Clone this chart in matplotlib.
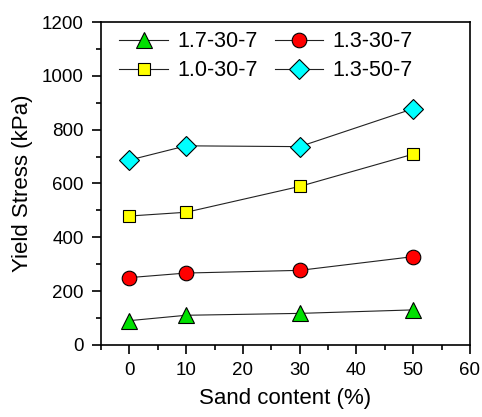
import matplotlib
matplotlib.use("Agg")
import matplotlib.pyplot as plt
from matplotlib.ticker import MultipleLocator

plt.rcParams['font.family'] = ['Liberation Sans', 'DejaVu Sans']

# sand content (%)
sand = [0, 10, 30, 50]
# yield stress (kPa) for each mix
y_17_30_7 = [90, 110, 117, 130]
y_13_30_7 = [250, 267, 277, 328]
y_10_30_7 = [479, 493, 589, 709]
y_13_50_7 = [687, 740, 737, 878]
labels = ['1.7-30-7', '1.3-30-7', '1.0-30-7', '1.3-50-7']

fig = plt.figure(figsize=(4.82, 4.17), dpi=100)
ax = fig.add_axes([0.2095, 0.173, 0.7655, 0.774])

series = [y_17_30_7, y_13_30_7, y_10_30_7, y_13_50_7]
markers = ['^', 'o', 's', 'D']
colors = ['#00e000', '#ff0000', '#ffff00', '#00ffff']
sizes = [11.5, 10.5, 8.2, 10]
lines = []
for s, m, c, ms, lab in zip(series, markers, colors, sizes, labels):
    ln, = ax.plot(sand, s, color='#222222', lw=0.8, marker=m, markersize=ms,
                  markerfacecolor=c, markeredgecolor='black', markeredgewidth=0.8,
                  label=lab)
    lines.append(ln)

ax.set_xlim(-5, 60)
ax.set_ylim(0, 1200)
ax.xaxis.set_major_locator(MultipleLocator(10))
ax.xaxis.set_minor_locator(MultipleLocator(5))
ax.yaxis.set_major_locator(MultipleLocator(200))
ax.yaxis.set_minor_locator(MultipleLocator(100))
ax.tick_params(which='both', direction='out', labelsize=13.5, width=1.2)
ax.tick_params(which='major', length=6.5, pad=6)
ax.tick_params(which='minor', length=3.3)
for sp in ax.spines.values():
    sp.set_linewidth(1.2)

ax.set_xlabel('Sand content (%)', fontsize=16, labelpad=6)
ax.set_ylabel('Yield Stress (kPa)', fontsize=16, labelpad=6)

# legend filled row by row: 1.7 | 1.3-30 / 1.0 | 1.3-50
order = [0, 2, 1, 3]
ax.legend([lines[i] for i in order], [labels[i] for i in order],
          ncol=2, frameon=False, fontsize=15.5, loc='upper left',
          bbox_to_anchor=(0.038, 0.985), handlelength=2.25, handletextpad=0.44,
          columnspacing=0.78, labelspacing=0.38, borderaxespad=0.0,
          borderpad=0.2)

fig.savefig('out.png', dpi=100)
